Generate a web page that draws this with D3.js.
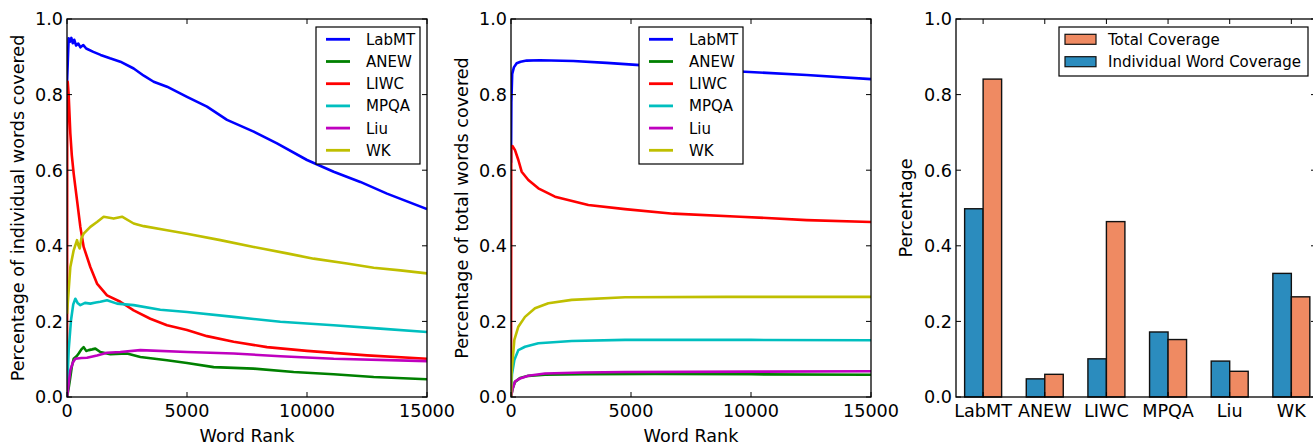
<!DOCTYPE html>
<html>
<head>
<meta charset="utf-8">
<script src="https://cdn.jsdelivr.net/npm/d3@7"></script>
<style>
  html, body { margin: 0; padding: 0; background: #fff; }
  svg { display: block; font-family: "DejaVu Sans", sans-serif; }
</style>
</head>
<body>
<svg id="chart" width="1313" height="445"></svg>
<script>
// ---------- DATA ----------
const seriesNames = ["LabMT", "ANEW", "LIWC", "MPQA", "Liu", "WK"];
const seriesColors = ["#0000FF", "#008000", "#FF0000", "#00BFBF", "#BF00BF", "#BFBF00"];

// Panel 1: percentage of individual words covered vs word rank  [rank, value]
const indivLabMT = [[1,0.83],[40,0.90],[69,0.949],[120,0.94],[180,0.95],[240,0.936],[300,0.945],[380,0.93],[472,0.935],[560,0.925],[680,0.931],[800,0.922],[1097,0.913],[1400,0.905],[1792,0.896],[2222,0.887],[2778,0.869],[3200,0.850],[3611,0.834],[4167,0.821],[5000,0.794],[5833,0.768],[6667,0.733],[7778,0.702],[8750,0.671],[10000,0.627],[11111,0.596],[12222,0.569],[13333,0.538],[15000,0.497]];
const indivANEW = [[1,0.0],[60,0.02],[139,0.053],[200,0.08],[278,0.101],[400,0.108],[486,0.115],[600,0.126],[694,0.132],[800,0.122],[903,0.124],[1050,0.126],[1181,0.128],[1389,0.119],[1806,0.113],[2500,0.115],[3056,0.106],[4167,0.097],[5000,0.090],[6111,0.079],[7778,0.075],[9444,0.066],[11111,0.060],[12778,0.053],[15000,0.047]];
const indivLIWC = [[1,0.0],[10,0.80],[30,0.834],[69,0.80],[139,0.697],[200,0.64],[278,0.591],[417,0.521],[556,0.450],[694,0.397],[972,0.344],[1250,0.300],[1667,0.269],[2222,0.252],[2778,0.229],[3472,0.207],[4167,0.190],[5000,0.177],[5833,0.161],[6944,0.146],[8333,0.132],[10000,0.122],[12500,0.110],[15000,0.101]];
const indivMPQA = [[1,0.0],[30,0.06],[69,0.124],[167,0.203],[260,0.245],[347,0.260],[450,0.248],[556,0.243],[750,0.249],[972,0.247],[1200,0.250],[1389,0.252],[1667,0.256],[2083,0.247],[2778,0.243],[3889,0.231],[5000,0.225],[6944,0.212],[8889,0.199],[11111,0.190],[13056,0.181],[15000,0.172]];
const indivLiu = [[1,0.0],[60,0.03],[139,0.071],[250,0.092],[347,0.101],[600,0.103],[833,0.104],[1250,0.110],[1667,0.117],[2222,0.119],[3056,0.124],[5000,0.119],[6944,0.115],[8889,0.108],[11111,0.101],[15000,0.095]];
const indivWK = [[1,0.22],[69,0.282],[139,0.344],[278,0.388],[417,0.415],[480,0.40],[528,0.393],[600,0.42],[694,0.432],[972,0.450],[1250,0.463],[1528,0.477],[1944,0.472],[2292,0.477],[2778,0.459],[3194,0.452],[4167,0.441],[5000,0.432],[6389,0.415],[7778,0.397],[9167,0.380],[10278,0.366],[11667,0.353],[12778,0.342],[13889,0.335],[15000,0.327]];

// Panel 2: percentage of total words covered vs word rank  [rank, value]
const totalLabMT = [[1,0.62],[15,0.78],[50,0.855],[120,0.872],[236,0.883],[400,0.887],[653,0.890],[1208,0.891],[2597,0.889],[3986,0.884],[5375,0.878],[7500,0.869],[9542,0.861],[12319,0.852],[15000,0.841]];
const totalANEW = [[1,0.0],[60,0.02],[167,0.040],[375,0.050],[722,0.056],[1417,0.059],[3000,0.060],[6000,0.061],[10000,0.060],[15000,0.059]];
const totalLIWC = [[1,0.0],[10,0.66],[60,0.664],[167,0.653],[306,0.627],[444,0.596],[722,0.574],[1139,0.552],[1833,0.530],[3222,0.508],[4750,0.497],[6764,0.485],[9542,0.477],[12319,0.468],[15000,0.463]];
const totalMPQA = [[1,0.0],[40,0.06],[139,0.098],[306,0.124],[583,0.133],[1139,0.142],[2528,0.148],[4750,0.151],[10000,0.151],[15000,0.150]];
const totalLiu = [[1,0.0],[60,0.02],[167,0.041],[375,0.049],[722,0.056],[1417,0.062],[3000,0.065],[4750,0.066],[10000,0.067],[15000,0.068]];
const totalWK = [[1,0.0],[20,0.062],[139,0.151],[306,0.186],[583,0.212],[1000,0.235],[1556,0.248],[2528,0.257],[4750,0.264],[9000,0.265],[15000,0.265]];

// Panel 3: coverage bars
const barCategories = ["LabMT", "ANEW", "LIWC", "MPQA", "Liu", "WK"];
const individualCoverage = [0.498, 0.048, 0.101, 0.172, 0.095, 0.327];
const totalCoverage = [0.841, 0.060, 0.464, 0.152, 0.068, 0.265];

const yTickValues = [0, 0.2, 0.4, 0.6, 0.8, 1.0];
const xTickValues = [0, 5000, 10000, 15000];

// ---------- DRAW ----------
const svg = d3.select("#chart");
const TOP = 19, BOTTOM = 397, W = 360;
const tickFont = 17.6, legendFont = 15;

const y = d3.scaleLinear().domain([0, 1]).range([BOTTOM, TOP]);

function drawFrame(g, x0, x1, xScale, xTicks, xLabels, yLabel, yLabelX) {
  const tl = 5;
  yTickValues.forEach(v => {
    g.append("line").attr("x1", x0).attr("x2", x0 + tl).attr("y1", y(v)).attr("y2", y(v)).attr("stroke", "#000").attr("stroke-width", 1);
    g.append("line").attr("x1", x1).attr("x2", x1 - tl).attr("y1", y(v)).attr("y2", y(v)).attr("stroke", "#000").attr("stroke-width", 1);
    g.append("text").attr("x", x0 - 4).attr("y", y(v)).attr("dy", "0.36em")
      .attr("text-anchor", "end").attr("font-size", tickFont).text(d3.format(".1f")(v));
  });
  xTicks.forEach((v, i) => {
    const xx = xScale(v);
    g.append("line").attr("x1", xx).attr("x2", xx).attr("y1", BOTTOM).attr("y2", BOTTOM - tl).attr("stroke", "#000").attr("stroke-width", 1);
    g.append("line").attr("x1", xx).attr("x2", xx).attr("y1", TOP).attr("y2", TOP + tl).attr("stroke", "#000").attr("stroke-width", 1);
    g.append("text").attr("x", xx).attr("y", 416.5).attr("text-anchor", "middle")
      .attr("font-size", tickFont).text(xLabels[i]);
  });
  g.append("rect").attr("x", x0).attr("y", TOP).attr("width", x1 - x0).attr("height", BOTTOM - TOP)
    .attr("fill", "none").attr("stroke", "#000").attr("stroke-width", 1.3);
  g.append("text").attr("transform", `translate(${yLabelX},${(TOP + BOTTOM) / 2}) rotate(-90)`)
    .attr("text-anchor", "middle").attr("dy", "0.36em").attr("font-size", tickFont).text(yLabel);
}

function linePanel(x0, data, yLabel, yLabelX, legendX) {
  const g = svg.append("g");
  const x = d3.scaleLinear().domain([0, 15000]).range([x0, x0 + W]);
  const line = d3.line().x(d => x(d[0])).y(d => y(d[1]));
  const clipId = "clip" + x0;
  svg.append("clipPath").attr("id", clipId).append("rect")
    .attr("x", x0).attr("y", TOP).attr("width", W).attr("height", BOTTOM - TOP);
  const lines = g.append("g").attr("clip-path", `url(#${clipId})`);
  data.forEach((s, i) => {
    lines.append("path").datum(s).attr("d", line).attr("fill", "none")
      .attr("stroke", seriesColors[i]).attr("stroke-width", 2.6).attr("stroke-linejoin", "round");
  });
  drawFrame(g, x0, x0 + W, x, xTickValues, xTickValues.map(String), yLabel, yLabelX);
  g.append("text").attr("x", x0 + W / 2).attr("y", 442).attr("text-anchor", "middle")
    .attr("font-size", tickFont).text("Word Rank");
  const lg = g.append("g");
  lg.append("rect").attr("x", legendX).attr("y", 27).attr("width", 104).attr("height", 137)
    .attr("fill", "#fff").attr("stroke", "#000").attr("stroke-width", 1.2);
  seriesNames.forEach((n, i) => {
    const yy = 39.3 + 22.2 * i;
    lg.append("line").attr("x1", legendX + 10).attr("x2", legendX + 34).attr("y1", yy).attr("y2", yy)
      .attr("stroke", seriesColors[i]).attr("stroke-width", 2.8);
    lg.append("text").attr("x", legendX + 50).attr("y", yy).attr("dy", "0.36em")
      .attr("font-size", legendFont).text(n);
  });
}

linePanel(67, [indivLabMT, indivANEW, indivLIWC, indivMPQA, indivLiu, indivWK],
  "Percentage of individual words covered", 18, 316);
linePanel(511, [totalLabMT, totalANEW, totalLIWC, totalMPQA, totalLiu, totalWK],
  "Percentage of total words covered", 462, 639);

// Bar panel
(function () {
  const x0 = 956;
  const g = svg.append("g");
  const x = d3.scaleLinear().domain([-0.44, 5.4]).range([x0, x0 + W]);
  const bw = 0.3;
  const blue = "#2B8CBE", orange = "#EF8A62";
  g.selectAll("rect.ind").data(individualCoverage).enter().append("rect")
    .attr("x", (d, i) => x(i - bw)).attr("y", d => y(d))
    .attr("width", (d, i) => x(i) - x(i - bw)).attr("height", d => BOTTOM - y(d))
    .attr("fill", blue).attr("stroke", "#111").attr("stroke-width", 1.4);
  g.selectAll("rect.tot").data(totalCoverage).enter().append("rect")
    .attr("x", (d, i) => x(i)).attr("y", d => y(d))
    .attr("width", (d, i) => x(i + bw) - x(i)).attr("height", d => BOTTOM - y(d))
    .attr("fill", orange).attr("stroke", "#111").attr("stroke-width", 1.4);
  drawFrame(g, x0, x0 + W, x, d3.range(barCategories.length), barCategories, "Percentage", 906);
  const lg = g.append("g");
  lg.append("rect").attr("x", 1059).attr("y", 27).attr("width", 249).attr("height", 49)
    .attr("fill", "#fff").attr("stroke", "#000").attr("stroke-width", 1.2);
  [["Total Coverage", orange], ["Individual Word Coverage", blue]].forEach((e, i) => {
    const yy = 39.3 + 22.4 * i;
    lg.append("rect").attr("x", 1065).attr("y", yy - 5).attr("width", 31).attr("height", 10)
      .attr("fill", e[1]).attr("stroke", "#111").attr("stroke-width", 1.2);
    lg.append("text").attr("x", 1108).attr("y", yy).attr("dy", "0.36em")
      .attr("font-size", legendFont).text(e[0]);
  });
})();
</script>
</body>
</html>
